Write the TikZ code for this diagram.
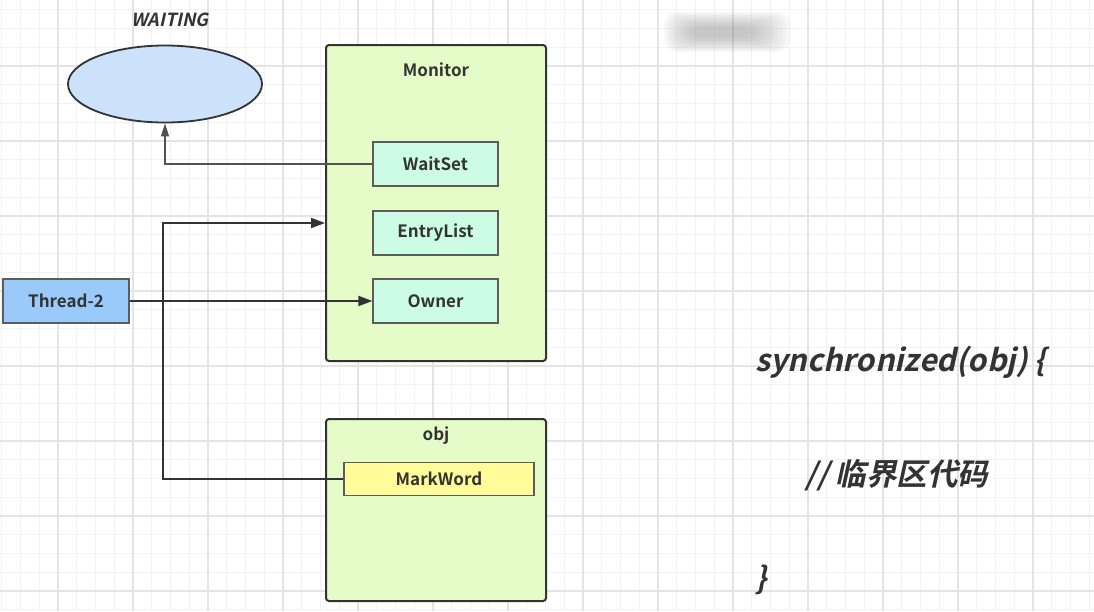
\documentclass[tikz,border=0pt]{standalone}
\usepackage{fontspec}
\setmainfont{Noto Sans CJK SC}[BoldFont={* Bold}]
\newfontfamily\slantfont{Noto Sans CJK SC}[FakeSlant=0.22, BoldFont={* Bold}, BoldFeatures={FakeSlant=0.22}]
\usetikzlibrary{arrows.meta,shapes.geometric}
\definecolor{gridminor}{RGB}{242,242,242}
\definecolor{gridmajor}{RGB}{228,228,228}
\definecolor{ellfill}{RGB}{204,226,250}
\definecolor{boxgreen}{RGB}{230,252,200}
\definecolor{mint}{RGB}{204,252,228}
\definecolor{threadblue}{RGB}{153,202,250}
\definecolor{markyellow}{RGB}{255,252,153}
\definecolor{ink}{RGB}{51,51,51}
\tikzset{
  container/.style={draw=ink, line width=2pt, fill=boxgreen, rounded corners=3pt, inner sep=0pt},
  inbox/.style={draw=ink!80, line width=1.2pt, fill=mint, minimum width=125, minimum height=44, inner sep=0pt, font=\bfseries\fontsize{17}{17}\selectfont, text=ink},
  title/.style={font=\bfseries\fontsize{17}{17}\selectfont, text=ink},
  conn/.style={draw=ink, line width=2pt, -{Triangle[length=14pt,width=10pt]}},
  thinconn/.style={draw=ink!85, line width=1.2pt, -{Triangle[length=13pt,width=8pt]}},
  code/.style={font=\slantfont\bfseries\fontsize{30.5}{30.5}\selectfont, text=ink, anchor=west, inner sep=0pt}
}
\begin{document}
\begin{tikzpicture}[x=1pt,y=-1pt]
\useasboundingbox (0,0) rectangle (1094,611);
\fill[white] (0,0) rectangle (1094,611);
% grid
\foreach \i in {0,...,58} {\draw[gridminor, line width=1pt] ({1.75+18.75*\i},0) -- ({1.75+18.75*\i},611);}
\foreach \i in {0,...,33} {\draw[gridminor, line width=1pt] (0,{9.75+18.75*\i}) -- (1094,{9.75+18.75*\i});}
\foreach \i in {0,...,14} {\draw[gridmajor, line width=1.3pt] ({58+75*\i},0) -- ({58+75*\i},611);}
\foreach \i in {0,...,7} {\draw[gridmajor, line width=1.3pt] (0,{66+75*\i}) -- (1094,{66+75*\i});}
% blurred patch
\foreach \k in {0,...,9} {
  \fill[gray, opacity=0.05, rounded corners=12pt] ({664+3*\k},{12+1.6*\k}) rectangle ({790-4*\k},{52-1.6*\k});
}
% WAITING
\node[font=\slantfont\bfseries\fontsize{18}{18}\selectfont, text=ink] (waitlabel) at (170,20) {WAITING};
\node[ellipse, draw=ink, line width=1.8pt, fill=ellfill, minimum width=194, minimum height=77, inner sep=0pt] (waiting) at (165,84) {};
% Monitor
\node[container, minimum width=220, minimum height=316] (monitor) at (436,203) {};
\node[title] (montitle) at (436,70) {Monitor};
\node[inbox] (waitset) at (435.5,164) {WaitSet};
\node[inbox] (entry) at (435.5,233) {EntryList};
\node[inbox] (owner) at (435.5,301) {Owner};
% Thread
\node[draw=ink!80, line width=1.2pt, fill=threadblue, minimum width=126, minimum height=44, inner sep=0pt, font=\bfseries\fontsize{17}{17}\selectfont, text=ink] (thread) at (66,301) {Thread-2};
% obj
\node[container, minimum width=220, minimum height=182] (obj) at (436,510) {};
\node[title] (objtitle) at (436,436) {obj};
\node[draw=ink!80, line width=1.2pt, fill=markyellow, minimum width=190, minimum height=33, inner sep=0pt, font=\bfseries\fontsize{17}{17}\selectfont, text=ink] (markword) at (439,479) {MarkWord};
% connectors
\draw[thinconn] (waitset.west) -| (waiting.south);
\draw[conn] (thread.east) -- (owner.west);
\coordinate (bendA) at (163,479);
\coordinate (bendB) at (163,223);
\draw[conn] (markword.west) -- (bendA) -- (bendB) -- (bendB -| monitor.west);
% code text
\node[code] (sync) at (755,362) {synchronized(obj) \{};
\node[code] (comment) at (805,475) {// 临界区代码};
\node[code] (close) at (755,580) {\}};
\end{tikzpicture}
\end{document}
